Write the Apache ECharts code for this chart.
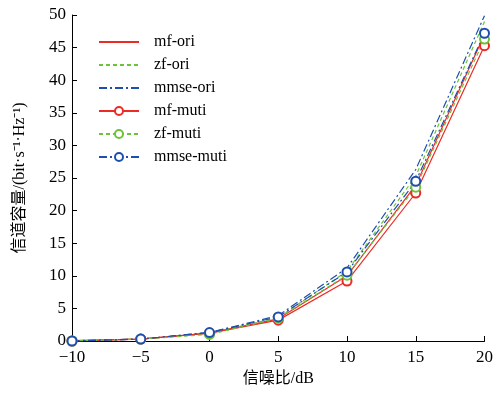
<!DOCTYPE html>
<html><head><meta charset="utf-8">
<script src="https://cdn.jsdelivr.net/npm/echarts@6/dist/echarts.min.js"></script>
<style>html,body{margin:0;padding:0;background:#fff}#c{width:496px;height:400px}</style>
</head><body><div id="c"></div>
<script>
var snr = [-10, -5, 0, 5, 10, 15, 20];
var mfOri = [0.05, 0.3, 1.2, 3.4, 10.0, 23.9, 47.0];
var zfOri = [0.05, 0.3, 1.2, 3.6, 10.7, 25.3, 49.0];
var mmseOri = [0.05, 0.3, 1.3, 3.9, 11.2, 26.3, 49.9];
var mfMuti = [0.0, 0.3, 1.2, 3.2, 9.2, 22.7, 45.3];
var zfMuti = [0.0, 0.3, 1.0, 3.5, 10.1, 23.6, 46.3];
var mmseMuti = [0.0, 0.3, 1.3, 3.7, 10.6, 24.5, 47.2];
var names = ['mf-ori','zf-ori','mmse-ori','mf-muti','zf-muti','mmse-muti'];

var RED = '#ee2a24', GREEN = '#6cc33a', BLUE = '#1d4fae';
var font = '"Liberation Serif","Noto Sans CJK SC",serif';
function pairs(v){ return snr.map(function(x,i){return [x, v[i]];}); }
function mk(name, data, color, type, marker){
  return {
    name: name, type: 'line', data: pairs(data),
    symbol: marker ? 'emptyCircle' : 'none', symbolSize: 9,
    showSymbol: !!marker,
    lineStyle: {color: color, width: 1.2, type: type},
    itemStyle: {color: color, borderWidth: 1.2},
    emphasis: {disabled: true}, animation: false, z: marker ? 3 : 2
  };
}
var dashdot = [8, 3, 2, 3];
var chart = echarts.init(document.getElementById('c'));
chart.setOption({
  animation: false,
  grid: {left: 72, right: 10, top: 15, bottom: 59, containLabel: false},
  legend: {
    left: 93, top: 29, orient: 'vertical', itemGap: 7, itemWidth: 40, itemHeight: 10,
    textStyle: {fontFamily: font, fontSize: 16, color: '#000', padding: [0, 0, 0, 10]},
    data: names.map(function(n, i){ return i < 3 ? {name: n, itemStyle: {opacity: 0}} : {name: n}; })
  },
  xAxis: {
    type: 'value', min: -10, max: 20, interval: 5,
    name: '信噪比/dB', nameLocation: 'middle', nameGap: 30,
    nameTextStyle: {fontFamily: font, fontSize: 16, color: '#000'},
    axisLine: {onZero: false, lineStyle: {color: '#000', width: 1}},
    axisTick: {inside: true, length: 5, lineStyle: {color: '#000'}},
    axisLabel: {fontFamily: font, fontSize: 17, color: '#000', margin: 8,
      formatter: function(v){ return String(v).replace('-', '\u2212'); }},
    splitLine: {show: false}
  },
  yAxis: {
    type: 'value', min: 0, max: 50, interval: 5,
    name: '信道容量/(bit·s\u207B\u00B9·Hz\u207B\u00B9)', nameLocation: 'middle', nameGap: 44,
    nameTextStyle: {fontFamily: font, fontSize: 16, color: '#000'},
    axisLine: {show: true, onZero: false, lineStyle: {color: '#000', width: 1}},
    axisTick: {show: true, inside: true, length: 5, lineStyle: {color: '#000'}},
    axisLabel: {fontFamily: font, fontSize: 17, color: '#000', margin: 6},
    splitLine: {show: false}
  },
  series: [
    mk('mf-ori', mfOri, RED, 'solid', false),
    mk('zf-ori', zfOri, GREEN, [4, 3], false),
    mk('mmse-ori', mmseOri, BLUE, dashdot, false),
    mk('mf-muti', mfMuti, RED, 'solid', true),
    mk('zf-muti', zfMuti, GREEN, [4, 3], true),
    mk('mmse-muti', mmseMuti, BLUE, dashdot, true)
  ]
});
</script></body></html>
